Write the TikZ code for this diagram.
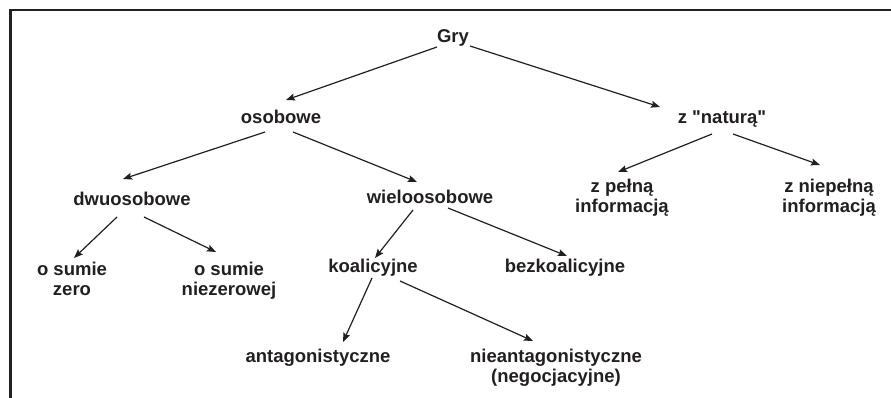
\documentclass[tikz,border=0pt]{standalone}
\usepackage{fontspec}
\setmainfont{Liberation Sans}[Ligatures=TeXOff]
\usetikzlibrary{arrows.meta}
\definecolor{ink}{RGB}{35,31,32}
\begin{document}
\begin{tikzpicture}[x=1pt,y=-1pt,
  lbl/.style={anchor=base,inner sep=0pt,align=center,text=ink,
    font=\fontsize{18.5}{19.5}\selectfont\bfseries},
  arr/.style={draw=ink,line width=1.2pt,-{Stealth[length=9pt,width=7pt,inset=1.5pt]}},
  frame/.style={draw=ink,line width=2.2pt}]
\useasboundingbox (0,0) rectangle (891,398);
\draw[frame] (10.5,399) -- (10.5,10.3) -- (892,10.3);
\node[lbl] (gry) at (453,43) {Gry};
\node[lbl] (osob) at (281,124) {osobowe};
\node[lbl] (nat) at (722,124) {z "naturą"};
\node[lbl] (dwu) at (132,205) {dwuosobowe};
\node[lbl] (wie) at (430,204) {wieloosobowe};
\node[lbl] (pel) at (622,212) {z pełną\\informacją};
\node[lbl] (niep) at (829,212) {z niepełną\\informacją};
\node[lbl] (zero) at (72,295) {o sumie\\zero};
\node[lbl] (nzero) at (229,295) {o sumie\\niezerowej};
\node[lbl] (koal) at (373,272) {koalicyjne};
\node[lbl] (bez) at (565,272) {bezkoalicyjne};
\node[lbl] (ant) at (318,362) {antagonistyczne};
\node[lbl] (nant) at (556,382) {nieantagonistyczne\\(negocjacyjne)};
\draw[arr] ([shift={(-16,4)}]gry.base) -- ([shift={(5,-24)}]osob.base);
\draw[arr] ([shift={(17,3)}]gry.base) -- ([shift={(-62,-17)}]nat.base);
\draw[arr] ([shift={(-16,8)}]osob.base) -- ([shift={(-9,-26)}]dwu.base);
\draw[arr] ([shift={(12,8)}]osob.base) -- ([shift={(-13,-22)}]wie.base);
\draw[arr] ([shift={(-15,12)}]dwu.base) -- ([shift={(2,-37)}]zero.base);
\draw[arr] ([shift={(12,12)}]dwu.base) -- ([shift={(-13,-43)}]nzero.base);
\draw[arr] ([shift={(-17,6)}]wie.base) -- ([shift={(2,-14)}]koal.base);
\draw[arr] ([shift={(18,4)}]wie.base) -- ([shift={(2,-16)}]bez.base);
\draw[arr] ([shift={(-1,6)}]koal.base) -- ([shift={(25,-20)}]ant.base);
\draw[arr] ([shift={(27,9)}]koal.base) -- ([shift={(-23,-41)}]nant.base);
\draw[arr] ([shift={(-10,10)}]nat.base) -- ([shift={(-4,-40)}]pel.base);
\draw[arr] ([shift={(11,10)}]nat.base) -- ([shift={(-9,-47)}]niep.base);
\end{tikzpicture}
\end{document}
